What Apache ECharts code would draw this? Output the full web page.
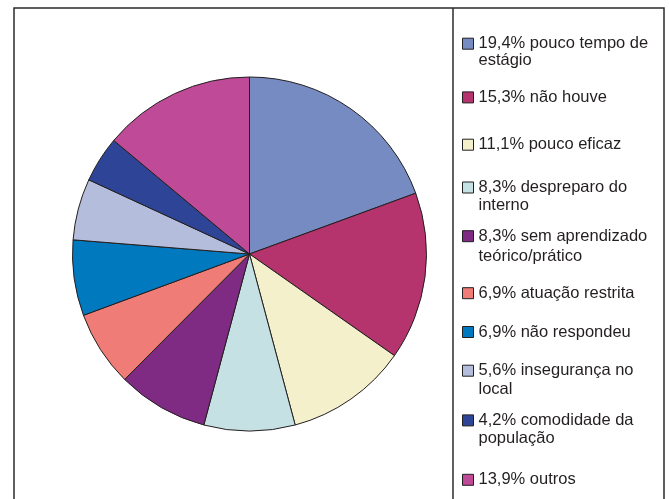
<!DOCTYPE html>
<html>
<head>
<meta charset="utf-8">
<script src="https://cdn.jsdelivr.net/npm/echarts@6/dist/echarts.min.js"></script>
<style>
  html, body { margin: 0; padding: 0; background: #ffffff; }
  #chart { width: 669px; height: 499px; }
</style>
</head>
<body>
<div id="chart"></div>
<script>
// Reasons given (percent of answers)
const categories = [
  'pouco tempo de\nestágio',
  'não houve',
  'pouco eficaz',
  'despreparo do\ninterno',
  'sem aprendizado\nteórico/prático',
  'atuação restrita',
  'não respondeu',
  'insegurança no\nlocal',
  'comodidade da\npopulação',
  'outros'
];
const percentages = [19.4, 15.3, 11.1, 8.3, 8.3, 6.9, 6.9, 5.6, 4.2, 13.9];
const sliceColors = [
  '#778bc3', '#b5346e', '#f5f0cc', '#c6e1e3', '#7f2b83',
  '#ef7c76', '#0079bf', '#b4bddb', '#2e4597', '#bf4a97'
];

// Legend layout: first text line centre and line spacing per entry (px)
const legendLineCentres = [42.2, 95.9, 143.2, 186, 234.7, 291.7, 330.5, 369.2, 418.9, 478.3];
const legendLineHeights = [17, 18, 18, 17.5, 20, 18, 18, 18.5, 18, 18];

const INK = '#231f20';

function fmtPct(v) {
  return v.toFixed(1).replace('.', ',') + '%';
}

const legends = categories.map(function (name, i) {
  const multi = name.indexOf('\n') >= 0;
  const lh = legendLineHeights[i];
  // a leading blank line keeps the swatch beside the first text line
  const top = multi ? legendLineCentres[i] - lh * 1.5 : legendLineCentres[i] - lh / 2;
  return {
    data: [name],
    left: 462,
    top: top,
    orient: 'vertical',
    padding: 0,
    itemWidth: 11,
    itemHeight: 11,
    icon: 'rect',
    selectedMode: false,
    itemStyle: { borderColor: INK, borderWidth: 1 },
    textStyle: {
      fontFamily: '"Liberation Sans", Arial, sans-serif',
      fontSize: 16.5,
      lineHeight: lh,
      color: INK,
      // lifts the text slightly above the swatch centre
      padding: [0, 0, 3, 0]
    },
    formatter: function (n) {
      const idx = categories.indexOf(n);
      const txt = fmtPct(percentages[idx]) + ' ' + n;
      return multi ? '\n' + txt : txt;
    }
  };
});

const chart = echarts.init(document.getElementById('chart'), null, { renderer: 'canvas' });
chart.setOption({
  animation: false,
  backgroundColor: '#ffffff',
  color: sliceColors,
  legend: legends,
  graphic: [
    {
      type: 'polyline',
      shape: { points: [[14, 520], [14, 8], [664, 8], [664, 520]] },
      style: { stroke: '#2b2b2b', lineWidth: 1.5, fill: null }
    },
    {
      type: 'line',
      shape: { x1: 453, y1: 8, x2: 453, y2: 520 },
      style: { stroke: '#2b2b2b', lineWidth: 1.5 }
    }
  ],
  series: [{
    type: 'pie',
    center: [249.5, 254],
    radius: 177,
    startAngle: 90,
    clockwise: true,
    label: { show: false },
    labelLine: { show: false },
    emphasis: { disabled: true },
    itemStyle: { borderColor: INK, borderWidth: 1 },
    data: categories.map(function (n, i) {
      return { name: n, value: percentages[i] };
    })
  }]
});
</script>
</body>
</html>
